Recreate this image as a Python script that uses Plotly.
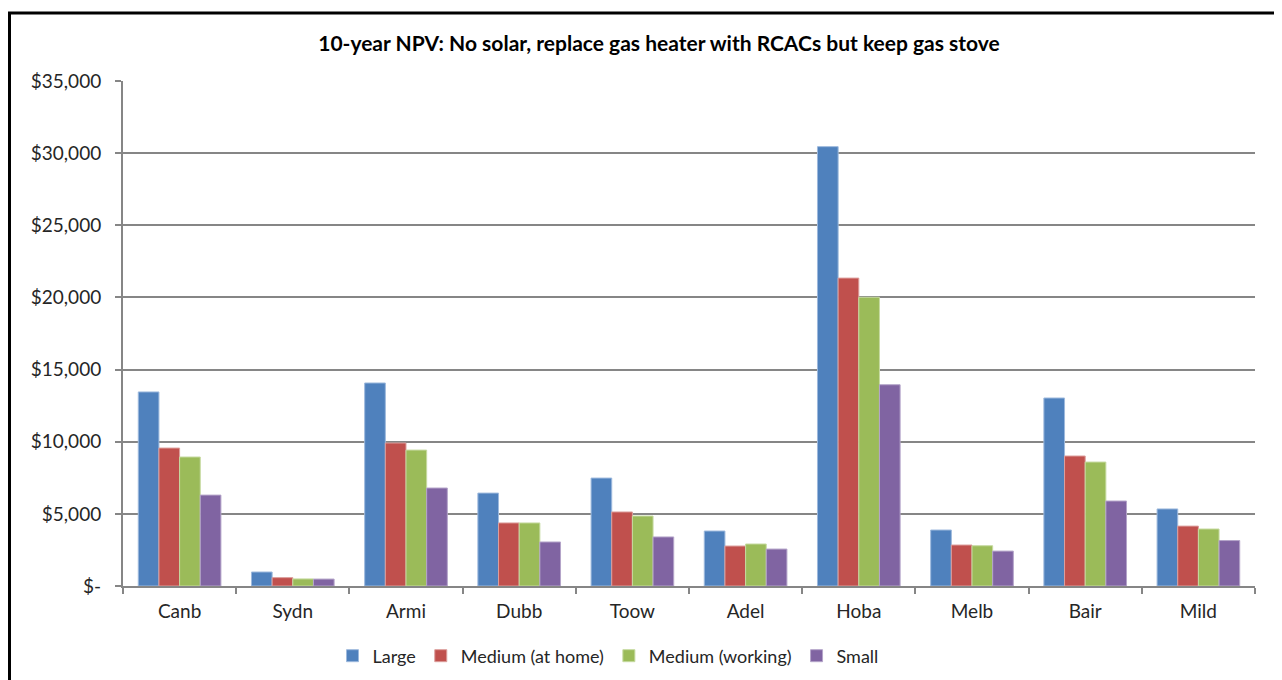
import plotly.graph_objects as go

categories = ["Canb", "Sydn", "Armi", "Dubb", "Toow", "Adel", "Hoba", "Melb", "Bair", "Mild"]
large = [13450, 970, 14070, 6440, 7480, 3810, 30450, 3880, 13030, 5340]
medium_home = [9560, 580, 9910, 4370, 5130, 2770, 21340, 2840, 9010, 4150]
medium_working = [8940, 490, 9420, 4370, 4850, 2910, 20010, 2790, 8590, 3950]
small = [6300, 480, 6790, 3050, 3400, 2560, 13950, 2420, 5890, 3150]

series_names = ["Large", "Medium (at home)", "Medium (working)", "Small"]
series_values = [large, medium_home, medium_working, small]
colors = ["#4F81BD", "#C0504D", "#9BBB59", "#8064A2"]
edge_colors = ["#9DB9DD", "#DC9E9C", "#C6DAA0", "#B4A4C9"]

y_tick_vals = [0, 5000, 10000, 15000, 20000, 25000, 30000, 35000]
y_tick_text = ["$-", "$5,000", "$10,000", "$15,000", "$20,000", "$25,000", "$30,000", "$35,000"]

title_text = "10-year NPV: No solar, replace gas heater with RCACs but keep gas stove"

FONT = "Lato, Carlito, Calibri, sans-serif"

# page offset (body margin) and target geometry in window pixels
OFF = 8
WIN_W, WIN_H = 1282, 680
W, H = WIN_W - OFF, WIN_H - OFF
L, R, T, B = 123 - OFF, 1255 - OFF, 81 - OFF, 586 - OFF
pw, ph = R - L, B - T


def px_x(p):
    return (p - OFF - L) / pw


def px_y(p):
    return (B - (p - OFF)) / ph


def cont_y(p):
    return 1 - (p - OFF) / H


fig = go.Figure()
for name, vals, c, ec in zip(series_names, series_values, colors, edge_colors):
    fig.add_trace(go.Bar(
        x=categories, y=vals, name=name,
        marker=dict(color=c, line=dict(color=ec, width=1)),
    ))

fig.update_layout(
    width=W, height=H,
    margin=dict(l=L, r=W - R, t=T, b=H - B, autoexpand=False),
    paper_bgcolor="white", plot_bgcolor="white",
    barmode="group", bargap=0.27, bargroupgap=0,
    font=dict(family=FONT, size=19, color="#262626"),
    title=dict(
        text="<b>" + title_text + "</b>",
        x=px_x(659), xanchor="center", xref="paper",
        y=cont_y(44), yanchor="middle",
        font=dict(family=FONT, size=21, color="#000000"),
    ),
    showlegend=True,
    legend=dict(
        orientation="h", x=px_x(608), xanchor="center", xref="paper",
        yref="container", y=cont_y(656), yanchor="middle",
        font=dict(family=FONT, size=18, color="#262626"),
        traceorder="normal", itemwidth=30,
    ),
    xaxis=dict(
        showline=True, linecolor="#868686", linewidth=2,
        ticks="outside", ticklen=6, tickcolor="#868686", tickwidth=1.5,
        tickson="boundaries", showgrid=False, automargin=False,
        tickfont=dict(family=FONT, size=19, color="#262626"),
        ticklabelstandoff=7,
    ),
    yaxis=dict(
        range=[0, 35000], tickvals=y_tick_vals, ticktext=y_tick_text,
        showline=True, linecolor="#868686", linewidth=2,
        ticks="outside", ticklen=6, tickcolor="#868686", tickwidth=1.5,
        showgrid=True, gridcolor="#868686", gridwidth=1.8,
        zeroline=False, automargin=False,
        tickfont=dict(family=FONT, size=19, color="#262626"),
        ticklabelstandoff=10,
    ),
    shapes=[dict(
        type="rect", xref="paper", yref="paper",
        x0=px_x(9.5), x1=px_x(1277), y0=px_y(720), y1=px_y(13),
        line=dict(color="#000000", width=3), fillcolor="rgba(0,0,0,0)",
        layer="above",
    )],
)

fig.write_html("out.html")
